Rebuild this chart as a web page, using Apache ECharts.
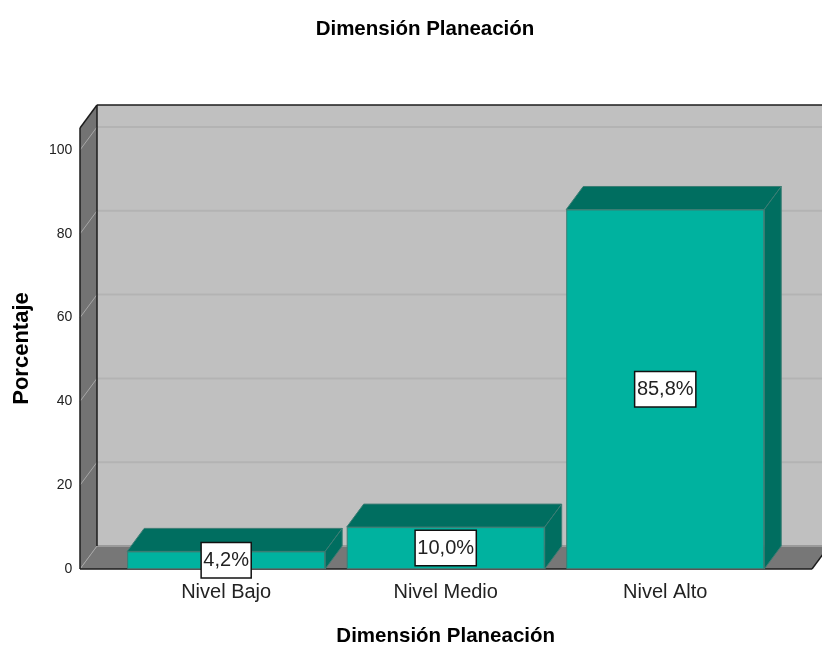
<!DOCTYPE html>
<html>
<head>
<meta charset="utf-8">
<style>html,body{margin:0;padding:0;background:#fff}#chart{width:822px;height:648px}</style>
<script src="https://cdn.jsdelivr.net/npm/echarts@6/dist/echarts.min.js"></script>
</head>
<body>
<div id="chart"></div>
<script>
// Dimensión Planeación: percentage per level, drawn as a bar chart inside a box with depth.
const categories = ['Nivel Bajo', 'Nivel Medio', 'Nivel Alto'];
const percentages = [4.2, 10.0, 85.8];
const axisTicks = [0, 20, 40, 60, 80, 100];
const axisMax = 105.25;

// Depth of the box and of the bars, in pixels.
const DEPTH_X = 17;
const DEPTH_Y = 23;
// How far the floor reaches beyond the band of categories on each side.
const FLOOR_LEFT = 36.4;
const FLOOR_RIGHT = 37;
const BAR_WIDTH = 198;

const FONT = '"Liberation Sans", Arial, sans-serif';
const EDGE = '#1c1c1c';

function poly(points, fill, stroke, z2) {
  return {
    type: 'polygon',
    z2: z2 || 0,
    shape: { points: points },
    style: { fill: fill, stroke: stroke || null, lineWidth: stroke ? 1 : 0 }
  };
}

function line(x1, y1, x2, y2, color, width, z2) {
  return {
    type: 'line',
    z2: z2 || 0,
    shape: { x1: x1, y1: y1, x2: x2, y2: y2 },
    style: { stroke: color, lineWidth: width }
  };
}

// Floor, left wall and back wall of the box.
function renderBox(params) {
  const c = params.coordSys;
  const l = c.x - FLOOR_LEFT;
  const r = c.x + c.width + FLOOR_RIGHT;
  const t = c.y;
  const b = c.y + c.height;
  return {
    type: 'group',
    children: [
      poly([[l + DEPTH_X, t - DEPTH_Y], [r + DEPTH_X, t - DEPTH_Y], [r + DEPTH_X, b - DEPTH_Y], [l + DEPTH_X, b - DEPTH_Y]], '#c0c0c0'),
      poly([[l, t], [l + DEPTH_X, t - DEPTH_Y], [l + DEPTH_X, b - DEPTH_Y], [l, b]], '#737373'),
      poly([[l, b], [r, b], [r + DEPTH_X, b - DEPTH_Y], [l + DEPTH_X, b - DEPTH_Y]], '#777777')
    ]
  };
}

// One ruling per tick value: across the left wall, then along the back wall.
function renderRuling(params, api) {
  const c = params.coordSys;
  const l = c.x - FLOOR_LEFT;
  const r = c.x + c.width + FLOOR_RIGHT;
  const y = api.coord([0, api.value(1)])[1];
  return {
    type: 'group',
    children: [
      line(l, y, l + DEPTH_X, y - DEPTH_Y, '#a6a6a6', 1),
      line(l + DEPTH_X, y - DEPTH_Y, r + DEPTH_X, y - DEPTH_Y, api.value(1) === 0 ? '#9a9a9a' : '#b3b3b3', 2)
    ]
  };
}

// Outline of the box, kept above the rulings.
function renderOutline(params) {
  const c = params.coordSys;
  const l = c.x - FLOOR_LEFT;
  const r = c.x + c.width + FLOOR_RIGHT;
  const t = c.y;
  const b = c.y + c.height;
  return {
    type: 'group',
    children: [
      line(l, t, l, b, EDGE, 1.5),
      line(l, t, l + DEPTH_X, t - DEPTH_Y, EDGE, 1.5),
      line(l + DEPTH_X, t - DEPTH_Y, r + DEPTH_X, t - DEPTH_Y, EDGE, 1.5),
      line(l + DEPTH_X, t - DEPTH_Y, l + DEPTH_X, b - DEPTH_Y, EDGE, 1.5),
      line(l, b, r, b, EDGE, 1.5),
      line(r, b, r + DEPTH_X, b - DEPTH_Y, EDGE, 1.5)
    ]
  };
}

// Top and right faces of each bar; the front face is the bar series itself.
function renderBarDepth(params, api) {
  const top = api.coord([api.value(0), api.value(1)]);
  const base = api.coord([api.value(0), 0]);
  const l = top[0] - BAR_WIDTH / 2;
  const r = top[0] + BAR_WIDTH / 2;
  const y = top[1];
  const face = '#006e60';
  const edge = '#3c7d74';
  return {
    type: 'group',
    children: [
      poly([[l, y], [l + DEPTH_X, y - DEPTH_Y], [r + DEPTH_X, y - DEPTH_Y], [r, y]], face, edge),
      poly([[r, y], [r + DEPTH_X, y - DEPTH_Y], [r + DEPTH_X, base[1] - DEPTH_Y], [r, base[1]]], face, edge)
    ]
  };
}

const chart = echarts.init(document.getElementById('chart'), null, { renderer: 'canvas' });

chart.setOption({
  animation: false,
  backgroundColor: '#ffffff',
  title: {
    text: 'Dimensión Planeación',
    left: 420,
    top: 14,
    textAlign: 'center',
    textStyle: { fontFamily: FONT, fontSize: 20.5, fontWeight: 'bold', color: '#000' }
  },
  grid: { left: 116.4, top: 128, width: 658.6, height: 441, outerBoundsMode: 'none' },
  xAxis: {
    type: 'category',
    data: categories,
    name: 'Dimensión Planeación',
    nameLocation: 'middle',
    nameGap: 57,
    nameTextStyle: { fontFamily: FONT, fontSize: 20.5, fontWeight: 'bold', color: '#000' },
    axisLine: { show: false },
    axisTick: { show: false },
    axisLabel: { fontFamily: FONT, fontSize: 20, color: '#222', margin: 13 }
  },
  yAxis: {
    type: 'value',
    min: 0,
    max: axisMax,
    interval: 20,
    name: 'Porcentaje',
    nameLocation: 'middle',
    nameGap: 83,
    nameTextStyle: { fontFamily: FONT, fontSize: 22, fontWeight: 'bold', color: '#000' },
    axisLine: { show: false },
    axisTick: { show: false },
    splitLine: { show: false },
    axisLabel: { fontFamily: FONT, fontSize: 14, color: '#222', margin: 44, showMaxLabel: false, padding: [8, 0, 0, 0] }
  },
  series: [
    { type: 'custom', z: 1, silent: true, clip: false, renderItem: renderBox, data: [[0, 0]] },
    { type: 'custom', z: 2, silent: true, clip: false, renderItem: renderRuling, data: axisTicks.map(v => [0, v]) },
    { type: 'custom', z: 3, silent: true, clip: false, renderItem: renderOutline, data: [[0, 0]] },
    { type: 'custom', z: 4, silent: true, clip: false, renderItem: renderBarDepth, data: percentages.map((v, i) => [i, v]) },
    {
      type: 'bar',
      z: 5,
      barWidth: BAR_WIDTH,
      data: percentages,
      itemStyle: { color: '#00b29f', borderColor: '#3c7d74', borderWidth: 1 },
      label: {
        show: true,
        position: 'inside',
        formatter: p => p.value.toFixed(1).replace('.', ',') + '%',
        fontFamily: FONT,
        fontSize: 20,
        color: '#222',
        backgroundColor: '#ffffff',
        borderColor: '#111',
        borderWidth: 1.5,
        padding: [9, 1.5, 5, 1.5]
      }
    }
  ]
});
</script>
</body>
</html>
